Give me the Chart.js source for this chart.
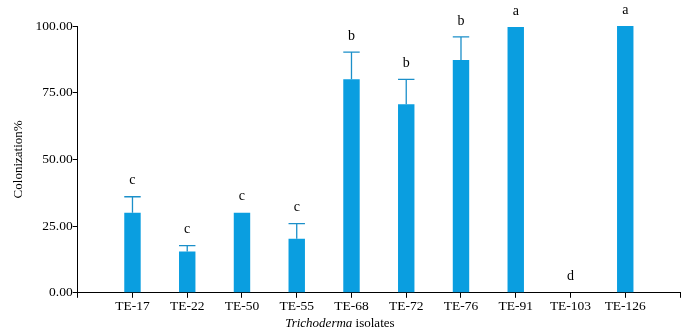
<!DOCTYPE html>
<html>
<head>
<meta charset="utf-8">
<script src="https://cdn.jsdelivr.net/npm/chart.js@4/dist/chart.umd.min.js"></script>
<style>
  html, body { margin: 0; padding: 0; background: #fff; }
  #wrap { width: 694px; height: 336px; }
</style>
</head>
<body>
<div id="wrap"><canvas id="chart" width="694" height="336"></canvas></div>
<script>
const isolates = ["TE-17", "TE-22", "TE-50", "TE-55", "TE-68", "TE-72", "TE-76", "TE-91", "TE-103", "TE-126"];
const colonization = [30, 15.5, 30, 20.3, 80, 70.7, 87.3, 99.6, 0, 100];
const errorUp = [6, 2.2, 0, 5.6, 10.2, 9.3, 8.6, 0, 0, 0];
const groups = ["c", "c", "c", "c", "b", "b", "b", "a", "d", "a"];
const yTicks = [0, 25, 50, 75, 100];

const barColor = "#0a9ee0";
const errColor = "#1b8fc9";
const serif = "'Liberation Serif', 'Times New Roman', serif";

// empty slot on each side so the bars sit one step in from the axis ends
const labels = ["", ...isolates, ""];
const values = [null, ...colonization, null];

const extras = {
  id: "extras",
  afterDatasetsDraw(chart) {
    const ctx = chart.ctx;
    const meta = chart.getDatasetMeta(0);
    const y = chart.scales.y;
    ctx.save();
    isolates.forEach((name, i) => {
      const bar = meta.data[i + 1];
      const top = colonization[i] + errorUp[i];
      if (errorUp[i] > 0) {
        const yb = y.getPixelForValue(colonization[i]);
        const yt = y.getPixelForValue(top);
        const half = bar.width / 2;
        ctx.strokeStyle = errColor;
        ctx.lineWidth = 1.3;
        ctx.beginPath();
        ctx.moveTo(bar.x, yb);
        ctx.lineTo(bar.x, yt);
        ctx.moveTo(bar.x - half, yt);
        ctx.lineTo(bar.x + half, yt);
        ctx.stroke();
      }
      ctx.fillStyle = "#000";
      ctx.font = "14px " + serif;
      ctx.textAlign = "center";
      ctx.textBaseline = "middle";
      ctx.fillText(groups[i], bar.x, y.getPixelForValue(top) - 16);
    });

    // x axis title with italic genus name
    const area = chart.chartArea;
    const cx = (area.left + area.right) / 2 - 39;
    const ty = area.bottom + 31;
    const it = "Trichoderma";
    const rest = " isolates";
    ctx.font = "italic 13px " + serif;
    const w1 = ctx.measureText(it).width;
    ctx.font = "13px " + serif;
    const w2 = ctx.measureText(rest).width;
    let x0 = cx - (w1 + w2) / 2;
    ctx.textAlign = "left";
    ctx.font = "italic 13px " + serif;
    ctx.fillText(it, x0, ty);
    ctx.font = "13px " + serif;
    ctx.fillText(rest, x0 + w1, ty);
    ctx.restore();
  }
};

new Chart(document.getElementById("chart"), {
  type: "bar",
  data: {
    labels: labels,
    datasets: [{
      data: values,
      backgroundColor: barColor,
      borderWidth: 0,
      barPercentage: 0.3,
      categoryPercentage: 1
    }]
  },
  options: {
    responsive: false,
    animation: false,
    layout: { padding: { top: 26, right: 14, left: 11, bottom: 20 } },
    plugins: { legend: { display: false }, tooltip: { enabled: false } },
    scales: {
      x: {
        offset: false,
        grid: { offset: false, drawOnChartArea: false, drawTicks: true, tickLength: 5, color: "#000" },
        border: { color: "#000", width: 1 },
        ticks: { color: "#000", font: { family: serif, size: 13.5 }, padding: 1, maxRotation: 0, autoSkip: false }
      },
      y: {
        min: 0,
        max: 100,
        afterBuildTicks(scale) { scale.ticks = yTicks.map(v => ({ value: v })); },
        grid: { drawOnChartArea: false, drawTicks: true, tickLength: 5, color: "#000" },
        border: { color: "#000", width: 1 },
        ticks: {
          color: "#000",
          font: { family: serif, size: 13.5 },
          padding: 0,
          callback: v => Number(v).toFixed(2)
        },
        title: {
          display: true,
          text: "Colonization%",
          color: "#000",
          font: { family: serif, size: 13 },
          padding: { top: 0, bottom: 9 }
        }
      }
    }
  },
  plugins: [extras]
});
</script>
</body>
</html>
